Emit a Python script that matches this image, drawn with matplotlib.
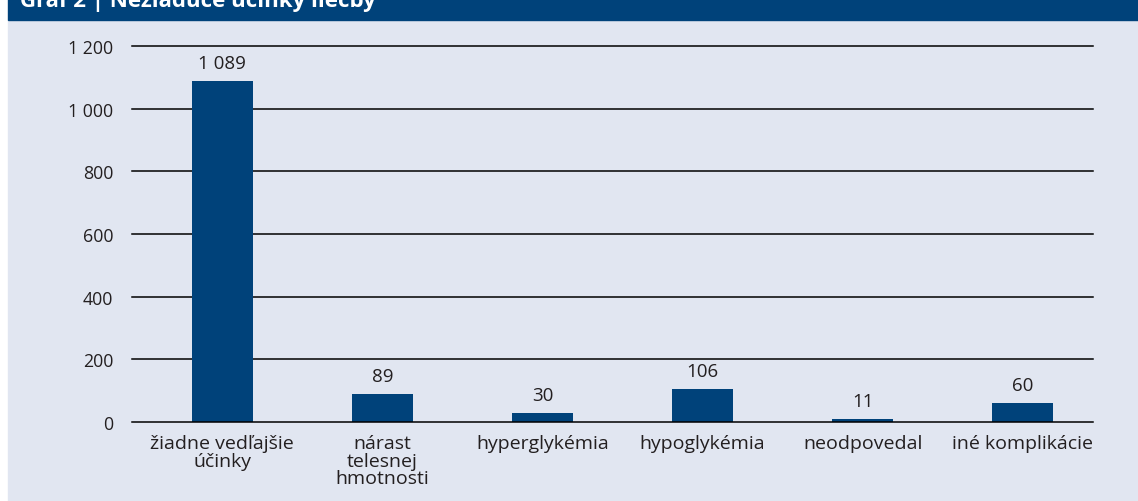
import matplotlib.pyplot as plt
from matplotlib.patches import Rectangle

# Data
categories = ["žiadne vedľajšie\núčinky", "nárast\ntelesnej\nhmotnosti", "hyperglykémia",
              "hypoglykémia", "neodpovedal", "iné komplikácie"]
values = [1089, 89, 30, 106, 11, 60]
yticks = [0, 200, 400, 600, 800, 1000, 1200]
title = "Graf 2 | Nežiaduce účinky liečby"

bar_color = "#00427a"
bg_color = "#e1e6f1"
text_color = "#231f20"

plt.rcParams['font.family'] = ['Open Sans', 'DejaVu Sans']

fig = plt.figure(figsize=(11.38, 5.02), dpi=100)
fig.patch.set_facecolor("white")

# background panels
fig.patches.append(Rectangle((8 / 1138, 0), 1 - 8 / 1138, 1 - 21 / 502,
                             transform=fig.transFigure, color=bg_color, zorder=-2))
fig.patches.append(Rectangle((8 / 1138, 1 - 21 / 502), 1 - 8 / 1138, 21 / 502,
                             transform=fig.transFigure, color=bar_color, zorder=-2))
fig.text(20 / 1138, 1 - 7 / 502, title, color="white", fontsize=16, fontweight="bold",
         va="baseline", ha="left")

ax = fig.add_axes([132 / 1138, (502 - 423) / 502, (1093 - 132) / 1138, 376 / 502])
ax.set_facecolor("none")

x = range(len(categories))
ax.bar(x, values, width=0.38, color=bar_color, zorder=3)
for xi, v in zip(x, values):
    ax.text(xi, v + 28, f"{v:,}".replace(",", " "), ha="center", va="bottom",
            fontsize=13.5, color=text_color)

for t in yticks:
    ax.axhline(t, color="black", lw=1.1, zorder=4 if t == 0 else 2, clip_on=False)

# category slots sit ~10 px to the right of the gridline span
shift = 10 / 160
ax.set_xlim(-0.5 - shift, len(categories) - 0.5 - shift)
ax.set_ylim(0, 1200)
ax.set_yticks(yticks)
ax.set_yticklabels([f"{t:,}".replace(",", " ") for t in yticks])
ax.set_xticks(list(x))
ax.set_xticklabels(categories, linespacing=0.95)
ax.tick_params(axis="both", length=0, colors=text_color)
ax.tick_params(axis="y", pad=13.5, labelsize=12.8)
ax.tick_params(axis="x", pad=9, labelsize=14)
for s in ax.spines.values():
    s.set_visible(False)

fig.savefig("out.png", dpi=100)
